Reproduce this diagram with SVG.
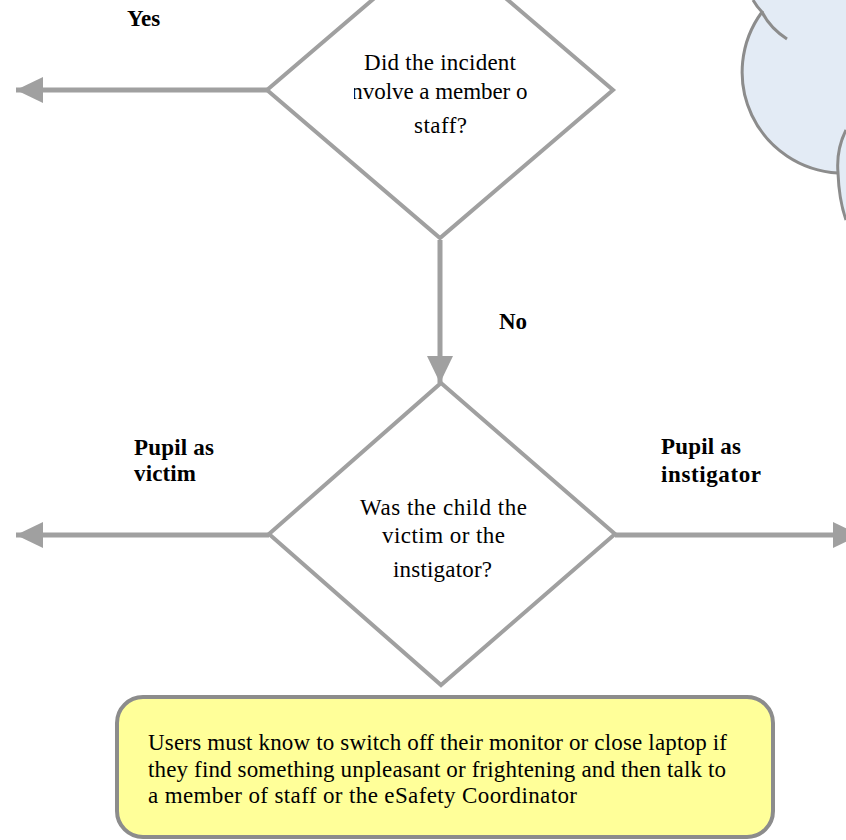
<svg xmlns="http://www.w3.org/2000/svg" width="846" height="840" viewBox="0 0 846 840">
<style>
.dia{fill:#ffffff;stroke:#a0a0a0;stroke-width:4;stroke-linejoin:miter}
.con{stroke:#a0a0a0;stroke-width:5;fill:none}
.t{font-family:"Liberation Serif","Times New Roman",serif;font-size:23px;fill:#000}
.lbl{font-family:"Liberation Serif","Times New Roman",serif;font-size:23px;font-weight:bold;fill:#000}
.cloudline{fill:none;stroke:#8c8c8c;stroke-width:3}
</style>
<defs>
<marker id="ah" markerUnits="userSpaceOnUse" markerWidth="28" markerHeight="28" refX="27" refY="13" orient="auto">
<path d="M0,0 L27,13 L0,26 Z" fill="#a0a0a0"/>
</marker>
<clipPath id="clip1"><rect x="354" y="70" width="173" height="40"/></clipPath>
</defs>
<rect width="846" height="840" fill="#ffffff"/>
<g id="cloud">
<path d="M753,0 Q757,7 762,12 A101,101 0 0 0 838,173 A110,110 0 0 0 846,220 L846,0 Z" fill="#e3ebf5"/>
<path class="cloudline" d="M753,0 Q757,7 762,12 A101,101 0 0 0 838,173"/>
<path class="cloudline" d="M762,12 Q770,28 787,39"/>
<path class="cloudline" d="M846,130 Q836,150 838,173 Q839,200 846,220"/>
</g>
<g id="connectors">
<line class="con" x1="267" y1="90" x2="16" y2="90" marker-end="url(#ah)"/>
<line class="con" x1="440" y1="240" x2="440" y2="383" marker-end="url(#ah)"/>
<line class="con" x1="269" y1="535" x2="16" y2="535" marker-end="url(#ah)"/>
<line class="con" x1="615" y1="535" x2="860" y2="535" marker-end="url(#ah)"/>
<text class="lbl" x="127" y="26">Yes</text>
<text class="lbl" x="499" y="329">No</text>
<text class="lbl" x="134" y="455" textLength="80" lengthAdjust="spacing">Pupil as</text>
<text class="lbl" x="134" y="481" textLength="62" lengthAdjust="spacing">victim</text>
<text class="lbl" x="661" y="454" textLength="80" lengthAdjust="spacing">Pupil as</text>
<text class="lbl" x="661" y="482" textLength="100" lengthAdjust="spacing">instigator</text>
</g>
<g id="decision1">
<polygon class="dia" points="440,-58 613,90 440,238 267,90"/>
<text class="t" x="364" y="70" textLength="152" lengthAdjust="spacing">Did the incident</text>
<g clip-path="url(#clip1)"><text class="t" x="345" y="99" textLength="190" lengthAdjust="spacing">involve a member of</text></g>
<text class="t" x="414" y="133" textLength="53" lengthAdjust="spacing">staff?</text>
</g>
<g id="decision2">
<polygon class="dia" points="441,383 615,534 441,685 269,534"/>
<text class="t" x="360" y="515" textLength="167" lengthAdjust="spacing">Was the child the</text>
<text class="t" x="382" y="543" textLength="123" lengthAdjust="spacing">victim or the</text>
<text class="t" x="393" y="577" textLength="99" lengthAdjust="spacing">instigator?</text>
</g>
<g id="note">
<rect x="117" y="697" width="656" height="140" rx="26" ry="26" fill="#ffff99" stroke="#8c8c8c" stroke-width="4"/>
<text class="t" x="148" y="750" textLength="579" lengthAdjust="spacing">Users must know to switch off their monitor or close laptop if</text>
<text class="t" x="148" y="777" textLength="578" lengthAdjust="spacing">they find something unpleasant or frightening  and then talk to</text>
<text class="t" x="148" y="803" textLength="429" lengthAdjust="spacing">a member  of staff or the eSafety Coordinator</text>
</g>
</svg>
